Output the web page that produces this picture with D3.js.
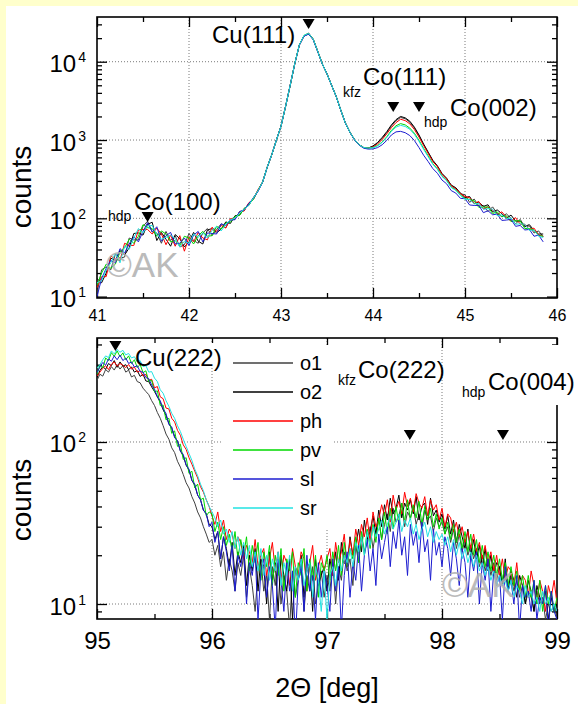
<!DOCTYPE html>
<html><head><meta charset="utf-8">
<script src="https://cdn.jsdelivr.net/npm/d3@7"></script>
<style>
body{margin:0;background:#ffffcc;}
svg{display:block;}
text{font-family:"Liberation Sans",Arial,Helvetica,sans-serif;}
</style>
</head><body>
<svg id="chart" width="578" height="704"></svg>
<script>
// ---------------- DATA ----------------
const seriesNames  = ["o1","o2","ph","pv","sl","sr"];
const seriesColors = ["#404040","#000000","#ff0000","#00d800","#1c1cd0","#22e2e2"];

// top panel: 2theta 41.00 .. 45.85, step 0.05
const topStart = 41.0, topStep = 0.05;
const top_o1 = [11,22,24,22,35,31,32,56,53,53,79,92,67,65,48,68,52,60,43,46,64,52,48,65,74,60,72,85,76,97,97,122,126,156,176,230,
  288,445,655,990,1510,2680,4950,9400,16300,21300,22600,19200,13400,9350,6950,5020,3580,2410,1640,1255,1005,868,798,788,
  832,915,1050,1245,1510,1765,1940,1870,1690,1420,1130,870,690,540,462,366,320,262,240,206,
  200,160,176,144,146,122,140,115,105,114,100,85,97,78,80,65,69,58];
const top_o2 = [17,15,20,31,29,39,34,42,64,65,61,84,89,52,66,54,44,62,55,43,50,66,51,47,71,74,65,73,90,86,108,110,134,146,184,223,
  292,450,650,1000,1500,2700,5000,9500,16500,21500,23200,19500,13500,9300,7000,5000,3600,2400,1650,1250,1010,870,800,790,
  840,930,1080,1280,1560,1820,2000,1920,1740,1460,1160,890,700,552,468,374,326,266,246,210,
  184,190,154,161,142,149,120,128,115,100,110,92,92,79,83,70,63,63];
const top_ph = [13,18,18,33,30,29,48,45,45,71,72,72,63,75,63,46,61,44,60,38,58,50,66,56,53,77,68,81,75,99,98,120,124,158,175,232,
  290,452,648,1005,1495,2710,5020,9450,16400,21400,22800,19300,13600,9250,7050,4980,3610,2390,1660,1245,1012,872,802,792,
  815,890,1015,1200,1440,1670,1840,1770,1610,1360,1090,850,672,532,456,364,318,260,238,206,
  190,183,155,164,132,140,127,112,121,103,92,102,84,84,72,75,61,59];
const top_pv = [14,20,26,23,26,37,42,54,48,59,83,76,74,59,69,63,50,52,45,59,56,47,60,68,59,60,79,73,87,89,106,109,133,150,175,227,
  291,448,652,998,1502,2690,4980,9550,16450,21600,22900,19400,13450,9300,7000,5000,3600,2400,1650,1250,1008,869,799,788,
  800,850,945,1100,1330,1520,1620,1560,1420,1220,990,780,626,498,428,346,306,250,230,198,
  178,174,167,138,139,140,115,121,105,108,91,93,93,74,74,71,60,59];
const top_sl = [10,17,23,29,27,41,36,47,58,50,68,88,67,78,51,60,66,47,48,56,45,61,68,50,65,64,63,85,81,95,96,122,127,155,180,221,
  289,447,651,1002,1498,2695,5010,9480,16350,21200,22500,19100,13350,9280,6980,4990,3590,2395,1645,1245,1000,860,785,765,
  770,800,870,990,1160,1270,1290,1240,1140,985,800,640,530,432,376,308,276,226,210,180,
  178,148,146,146,118,125,111,113,94,95,97,79,81,71,72,59,61,50];
const top_sr = [15,16,22,27,36,27,44,40,56,74,65,80,81,62,54,57,61,55,43,51,48,63,57,65,56,70,79,69,83,96,100,117,130,147,182,225,
  290,450,650,1000,1500,2700,5000,9500,16500,21700,23000,19400,13500,9300,7000,5000,3600,2400,1650,1250,1010,870,800,790,
  795,840,930,1080,1290,1460,1540,1490,1370,1180,960,760,610,490,422,342,302,248,228,196,
  175,174,153,155,130,133,131,108,111,99,101,84,85,84,70,71,59,57];

// bottom panel: 2theta 95.000 .. 99.000, step 0.025
const botStart = 95.0, botStep = 0.025;
const bot_o1 = [240,262,255,280,270,292,278,300,282,296, 270,278,252,258,236,232,215,205,196,180,
  168,152,140,126,112,104,92,86,76,70, 63,56,52,46,42,37,34,30,27,24,
  25,20,23,17,21,14,19,16,12,18, 15,20,11,17,13,9,16,19,12,15,
  8,17,13,18,10,15,12,7,16,11, 14,18,9,15,12,17,10,13,16,11,
  15,12,18,10,17,14,21,16,19,13, 23,18,26,21,24,30,22,28,33,25,
  31,36,28,39,32,35,42,30,37,34, 40,31,36,29,38,33,35,28,34,30,
  32,27,30,24,29,22,27,21,25,20, 23,19,22,17,20,16,19,15,18,14,
  17,13,16,12,15,12,14,11,13,10, 12,11,9,12,10,11,8,10,9,10,8];
const bot_o2 = [250,276,292,281,305,296,318,289,312,294, 300,279,291,270,276,254,262,238,236,219,
  205,190,176,158,146,130,121,108,101,88, 82,72,67,58,54,47,44,38,36,31,
  30,25,28,19,26,22,17,24,15,21, 18,23,13,20,16,22,12,19,17,10,
  21,14,18,9,20,15,12,19,8,17, 14,20,11,16,18,9,19,13,15,17,
  12,19,15,21,14,24,18,17,26,20, 23,29,21,33,25,28,35,27,38,30,
  41,33,45,36,39,47,34,42,38,44, 36,46,33,40,42,31,45,35,38,32,
  36,29,35,27,33,24,31,26,22,29, 20,25,19,23,17,22,16,20,15,18,
  17,13,19,12,16,14,11,15,13,10, 14,12,9,13,11,10,12,8,11,9,10];
const bot_ph = [255,270,285,296,280,302,312,294,305,298, 288,301,282,290,270,276,255,262,240,244,
  216,220,190,185,162,160,140,133,118,110, 96,90,80,73,66,60,53,49,44,40,
  35,31,37,28,33,25,29,27,22,26, 24,19,23,21,18,25,17,20,22,15,
  19,24,16,21,14,20,18,13,22,17, 15,21,19,12,18,23,14,17,20,16,
  19,22,15,24,18,21,27,17,25,20, 29,23,31,26,34,24,37,30,33,41,
  35,44,32,47,38,43,36,49,40,45, 37,48,42,39,46,35,44,38,41,33,
  39,30,36,34,28,32,26,30,24,28, 22,27,21,24,19,23,18,21,16,20,
  15,19,14,17,16,13,18,12,15,14, 11,16,13,10,14,12,9,13,11,14,10];
const bot_pv = [262,298,287,330,318,356,338,365,336,355, 322,340,305,322,288,301,268,275,236,241,
  204,207,168,169,137,140,113,117,94,97, 78,80,64,66,52,55,44,45,35,37,
  36,28,32,25,30,23,27,21,28,19, 25,20,26,16,23,18,24,14,21,17,
  23,13,20,15,22,12,19,16,21,11, 18,15,22,12,19,14,20,11,18,16,
  20,14,21,16,23,15,24,17,22,19, 26,18,28,20,29,22,31,24,34,25,
  37,27,39,29,40,31,42,32,44,33, 41,34,43,31,40,33,39,30,36,29,
  34,27,32,25,31,24,29,22,28,21, 27,20,25,18,23,17,21,16,20,15,
  19,14,18,13,17,13,16,12,15,11, 15,11,14,10,14,9,13,10,12,9,11];
const bot_sl = [268,290,310,298,326,315,340,322,344,318, 330,305,312,290,296,272,270,250,246,225,
  212,190,180,160,150,128,124,106,102,88, 84,72,68,58,55,47,44,38,36,30,
  32,24,28,19,26,21,16,23,12,20, 17,22,10,18,15,21,8,16,19,11,
  17,13,7,19,14,9,18,12,16,6, 14,17,9,20,12,15,8,18,11,16,
  13,9,19,12,17,7,15,21,11,18, 14,23,12,20,25,16,22,13,27,19,
  24,30,17,28,22,33,20,26,15,31, 23,28,18,32,21,25,14,29,20,24,
  17,26,22,15,24,19,13,22,18,11, 20,16,21,10,18,14,19,9,16,13,
  15,8,17,12,14,10,15,7,13,11, 12,9,14,8,11,10,13,7,12,9,8];
const bot_sr = [285,300,322,340,332,365,350,372,358,368, 345,352,330,336,312,318,292,296,270,272,
  248,236,210,200,180,166,150,140,126,116, 104,94,85,77,68,62,55,50,44,40,
  37,34,30,33,27,29,24,28,22,26, 20,24,19,23,17,21,16,22,15,20,
  14,19,16,21,13,18,15,20,12,17, 14,19,13,16,18,11,17,14,9,16,
  8,15,17,13,19,16,20,18,22,17, 24,21,26,20,28,23,30,26,29,33,
  27,31,35,29,32,36,28,33,30,34, 27,31,25,29,32,26,30,24,28,25,
  27,23,26,21,25,20,24,19,22,18, 21,17,20,16,18,15,17,14,16,13,
  15,13,14,12,14,11,13,12,10,13, 11,12,10,11,9,12,10,11,9,10,9];

const topSeries = [top_o1, top_o2, top_ph, top_pv, top_sl, top_sr];
const botSeries = [bot_o1, bot_o2, bot_ph, bot_pv, bot_sl, bot_sr];

// axes ticks
const topXTicks = [41,42,43,44,45,46];
const topXMinor = [41.5,42.5,43.5,44.5,45.5];
const topYTicks = [10,100,1000,10000];
const botXTicks = [95,96,97,98,99];
const botXMinor = [95.5,96.5,97.5,98.5];
const botYTicks = [10,100];

// reflection positions (deg)
const topPeaks = [43.3, 44.22, 44.5, 41.55];
const botPeaks = [95.16, 97.72, 98.53];

// ---------------- DRAW ----------------
const svg = d3.select("#chart");
svg.append("rect").attr("x",0).attr("y",0).attr("width",578).attr("height",704).attr("fill","#ffffcc");
svg.append("rect").attr("x",6).attr("y",6).attr("width",572).attr("height",698).attr("fill","#ffffff");

const FONT = '"Liberation Sans",Arial,Helvetica,sans-serif';
const L = 97, R = 557;

function minorLog(dom){
  const out=[];
  for(let e=-1;e<6;e++){
    for(let k=2;k<=9;k++){
      const v=k*Math.pow(10,e);
      if(v>dom[0]&&v<dom[1]) out.push(v);
    }
  }
  return out;
}

function drawPanel(cfg){
  const x = d3.scaleLinear().domain(cfg.xDom).range([L,R]);
  const y = d3.scaleLog().domain(cfg.yDom).range([cfg.yB,cfg.yT]);
  const g = svg.append("g");
  const id = "clip"+cfg.name;
  svg.append("clipPath").attr("id",id).append("rect")
    .attr("x",L).attr("y",cfg.yT).attr("width",R-L).attr("height",cfg.yB-cfg.yT);

  // grid
  const grid = g.append("g").attr("stroke","#7a7a7a").attr("stroke-width",1).attr("stroke-dasharray","1,2");
  cfg.xTicks.filter(v=>v>cfg.xDom[0]&&v<cfg.xDom[1]).forEach(v=>{
    grid.append("line").attr("x1",x(v)).attr("x2",x(v)).attr("y1",cfg.yT).attr("y2",cfg.yB);
  });
  cfg.yTicks.filter(v=>y(v)<cfg.yB-3).forEach(v=>{
    grid.append("line").attr("x1",L).attr("x2",R).attr("y1",y(v)).attr("y2",y(v));
  });

  // axes
  const styleAx = sel=>{ sel.select(".domain").remove(); sel.selectAll("line").attr("stroke","#000").attr("stroke-width",1.3); };
  const minorY = minorLog(cfg.yDom);
  const xb = g.append("g").attr("transform",`translate(0,${cfg.yB})`)
    .call(d3.axisBottom(x).tickValues(cfg.xTicks).tickSize(-10).tickFormat(d3.format("d")));
  styleAx(xb);
  xb.selectAll("text").attr("y",cfg.xLabDy).attr("dy",0).attr("font-size",cfg.xLabSize).attr("font-family",FONT).attr("fill","#000");
  styleAx(g.append("g").attr("transform",`translate(0,${cfg.yB})`)
    .call(d3.axisBottom(x).tickValues(cfg.xMinor).tickSize(-5).tickFormat("")));
  styleAx(g.append("g").attr("transform",`translate(0,${cfg.yT})`)
    .call(d3.axisTop(x).tickValues(cfg.xTicks).tickSize(-10).tickFormat("")));
  styleAx(g.append("g").attr("transform",`translate(0,${cfg.yT})`)
    .call(d3.axisTop(x).tickValues(cfg.xMinor).tickSize(-5).tickFormat("")));
  const yl = g.append("g").attr("transform",`translate(${L},0)`)
    .call(d3.axisLeft(y).tickValues(cfg.yTicks).tickSize(-10));
  styleAx(yl);
  yl.selectAll("text").each(function(d){
    const t=d3.select(this);
    t.text(null).attr("x",-11).attr("y",10).attr("dy",0).attr("text-anchor","end")
      .attr("font-family",FONT).attr("fill","#000");
    t.append("tspan").attr("font-size",24).text("10");
    t.append("tspan").attr("font-size",14).attr("dx",2).attr("dy",-10).text(Math.round(Math.log10(d)));
  });
  styleAx(g.append("g").attr("transform",`translate(${L},0)`)
    .call(d3.axisLeft(y).tickValues(minorY).tickSize(-5).tickFormat("")));
  styleAx(g.append("g").attr("transform",`translate(${R},0)`)
    .call(d3.axisRight(y).tickValues(cfg.yTicks).tickSize(-10).tickFormat("")));
  styleAx(g.append("g").attr("transform",`translate(${R},0)`)
    .call(d3.axisRight(y).tickValues(minorY).tickSize(-5).tickFormat("")));
  g.append("rect").attr("x",L).attr("y",cfg.yT).attr("width",R-L).attr("height",cfg.yB-cfg.yT)
    .attr("fill","none").attr("stroke","#000").attr("stroke-width",1.6);

  // label backgrounds
  (cfg.bgs||[]).forEach(b=>{
    g.append("rect").attr("x",b[0]).attr("y",b[1]).attr("width",b[2]).attr("height",b[3]).attr("fill","#fff");
  });

  // data
  const dg = g.append("g").attr("clip-path",`url(#${id})`);
  cfg.series.forEach((vals,si)=>{
    const line = d3.line().x((d,i)=>x(cfg.start+i*cfg.step)).y(d=>y(d));
    dg.append("path").attr("d",line(vals)).attr("fill","none")
      .attr("stroke",seriesColors[si]).attr("stroke-width",1).attr("stroke-linejoin","round");
  });

  // peak markers
  cfg.peaks.forEach((p,i)=>{
    const cx=x(p), ty=cfg.peakTips[i];
    g.append("path").attr("d",`M${cx-6},${ty-10}L${cx+6},${ty-10}L${cx},${ty}Z`).attr("fill","#000");
  });

  // labels
  cfg.labels.forEach(l=>{
    g.append("text").attr("x",l[0]).attr("y",l[1]).attr("font-size",l[3]).attr("fill","#000").attr("font-family",FONT).text(l[2]);
  });

  // y title
  g.append("text").attr("transform",`translate(31,${cfg.titleY}) rotate(-90)`).attr("text-anchor","middle")
    .attr("font-size",28).attr("font-family",FONT).attr("fill","#000").text("counts");

  // watermark
  g.append("text").attr("x",cfg.wm[0]).attr("y",cfg.wm[1]).attr("font-size",35).attr("font-family",FONT)
    .attr("fill","#b0b0b0").attr("opacity",0.85).text("©AK");
  return {x,y,g};
}

drawPanel({
  name:"top", xDom:[41,46], yDom:[9.6,37250], yT:17, yB:298,
  xTicks:topXTicks, xMinor:topXMinor, yTicks:topYTicks, xLabDy:23, xLabSize:16,
  start:topStart, step:topStep, series:topSeries,
  peaks:topPeaks, peakTips:[29,112,112,222],
  labels:[[212,43,"Cu(111)",24],[343,97,"kfz",14],[363,85,"Co(111)",24],
          [424,127,"hdp",14],[450,116,"Co(002)",24],[108,221,"hdp",14],[134,210,"Co(100)",24]],
  titleY:187, wm:[106,277]
});

drawPanel({
  name:"bot", xDom:[95,99], yDom:[8.08,438.5], yT:338, yB:619,
  xTicks:botXTicks, xMinor:botXMinor, yTicks:botYTicks, xLabDy:30, xLabSize:24,
  start:botStart, step:botStep, series:botSeries,
  peaks:botPeaks, peakTips:[351,440,440],
  bgs:[[222,345,112,183],[130,343,98,25],[458,345,120,60]],
  labels:[[135,366,"Cu(222)",24],[338,385,"kfz",14],[358,378,"Co(222)",24],
          [462,397,"hdp",14],[488,390,"Co(004)",24]],
  titleY:500, wm:[442,597]
});

// legend
const leg = svg.append("g");
seriesNames.forEach((n,i)=>{
  const ly = 363 + i*29;
  leg.append("line").attr("x1",233).attr("x2",293).attr("y1",ly).attr("y2",ly)
    .attr("stroke",seriesColors[i]).attr("stroke-width",1.5);
  leg.append("text").attr("x",300).attr("y",ly+7).attr("font-size",20).attr("font-family",FONT).attr("fill","#000").text(n);
});

// x title
svg.append("text").attr("x",327).attr("y",697).attr("text-anchor","middle").attr("font-size",27)
  .attr("font-family",FONT).attr("fill","#000").text("2Θ [deg]");
</script>
</body></html>
